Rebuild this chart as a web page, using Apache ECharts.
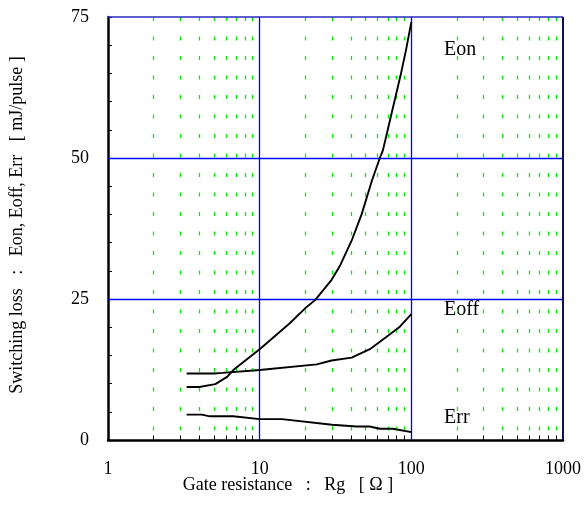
<!DOCTYPE html>
<html><head><meta charset="utf-8">
<script src="https://cdn.jsdelivr.net/npm/echarts@6/dist/echarts.min.js"></script>
<style>html,body{margin:0;padding:0;background:#fff}#c{width:586px;height:520px}</style>
</head><body><div id="c"></div>
<script>
const rgEon = [3.3, 4.0, 5.1, 6.1, 6.7, 10, 15.8, 20.4, 23.2, 29.8, 34, 40.6, 47, 55, 62, 65, 75, 85, 92, 100];
const eon   = [9.4, 9.4, 9.9, 11.2, 12.4, 16.1, 20.7, 23.6, 24.8, 28.4, 31, 35.5, 40, 46, 50, 51.4, 58.5, 64.7, 69, 74.1];
const rgEoff = [3.3, 5.0, 5.7, 10, 23.8, 29.8, 40.4, 53.3, 68.7, 84, 100];
const eoff   = [11.8, 11.8, 11.9, 12.4, 13.4, 14.1, 14.6, 16.1, 18.3, 20.1, 22.3];
const rgErr = [3.3, 4.15, 4.7, 6.7, 10, 14, 30, 43.6, 53, 62, 75.6, 100];
const err   = [4.5, 4.5, 4.2, 4.2, 3.7, 3.7, 2.7, 2.4, 2.4, 2.0, 2.0, 1.4];
const minorX = [2,3,4,5,6,7,8,9,20,30,40,50,60,70,80,90,200,300,400,500,600,700,800,900];
const xTicks = [1, 10, 100, 1000];
const yTicks = [0, 25, 50, 75];
const xName = 'Gate resistance   :   Rg   [ Ω ]';
const yName = 'Switching loss   :   Eon, Eoff, Err   [ mJ/pulse ]';
const seriesNames = ['Eon', 'Eoff', 'Err'];

const FONT = 'Liberation Serif';
const zip = (xs, ys) => xs.map((x, i) => [x, ys[i]]);
const chart = echarts.init(document.getElementById('c'), null, {renderer: 'canvas'});
const lineS = (name, data) => ({
  name, type: 'line', data, symbol: 'none', smooth: false, z: 5,
  lineStyle: {color: '#000', width: 1.9}
});
const ml = (z, color, width, type, data) => ({
  type: 'line', data: [], silent: true, z,
  markLine: {
    silent: true, symbol: ['none', 'none'], label: {show: false}, animation: false,
    lineStyle: {color, width, type}, emphasis: {disabled: true}, data
  }
});
const majorV = xTicks.slice(1, 3).map(x => [{coord: [x, yTicks[0]]}, {coord: [x, yTicks[3]]}]);
const majorH = yTicks.slice(1, 3).map(y => [{coord: [xTicks[0], y]}, {coord: [xTicks[3], y]}]);
chart.setOption({
  animation: false,
  grid: {left: 108, right: 23, top: 17, bottom: 80},
  xAxis: {
    type: 'log', logBase: 10, min: xTicks[0], max: xTicks[3],
    axisLine: {show: true, onZero: false, lineStyle: {color: '#000', width: 2.5}},
    axisTick: {show: true, inside: true, length: 4, lineStyle: {color: '#000'}},
    axisLabel: {color: '#000', fontFamily: FONT, fontSize: 18, margin: 20, formatter: v => String(v)},
    splitLine: {show: false},
    minorTick: {show: false}, minorSplitLine: {show: false}
  },
  yAxis: {
    type: 'value', min: yTicks[0], max: yTicks[3], interval: 25,
    axisLine: {show: true, onZero: false, lineStyle: {color: '#000', width: 2.5}},
    axisTick: {show: true, inside: true, length: 4, lineStyle: {color: '#000'}},
    minorTick: {show: true, splitNumber: 5, length: 4, lineStyle: {color: '#000'}},
    axisLabel: {color: '#000', fontFamily: FONT, fontSize: 18, margin: 19},
    splitLine: {show: false}
  },
  series: [
    ml(1, '#00ee00', 1.3, [4, 15.5], minorX.map(x => [{coord: [x, yTicks[3]]}, {coord: [x, yTicks[0]]}])),
    ml(2, '#000', 1, 'solid', minorX.map(x => [{coord: [x, 0]}, {coord: [x, 0.8]}])),
    ml(3, '#0000ff', 1.3, 'solid', majorV.concat(majorH)),
    ml(3, '#2a2ac0', 1.5, 'solid', [[{coord: [xTicks[0], yTicks[3]]}, {coord: [xTicks[3], yTicks[3]]}]]),
    ml(3, '#101050', 2, 'solid', [[{coord: [xTicks[3], yTicks[0]]}, {coord: [xTicks[3], yTicks[3]]}]]),
    lineS(seriesNames[0], zip(rgEon, eon)),
    lineS(seriesNames[1], zip(rgEoff, eoff)),
    lineS(seriesNames[2], zip(rgErr, err))
  ],
  graphic: [
    {type: 'text', x: 444, y: 50, style: {text: seriesNames[0], font: '20px ' + FONT, fill: '#000', verticalAlign: 'middle'}},
    {type: 'text', x: 444, y: 309.5, style: {text: seriesNames[1], font: '20px ' + FONT, fill: '#000', verticalAlign: 'middle'}},
    {type: 'text', x: 444, y: 417.5, style: {text: seriesNames[2], font: '20px ' + FONT, fill: '#000', verticalAlign: 'middle'}},
    {type: 'text', x: 288, y: 485, style: {text: xName, font: '18px ' + FONT, fill: '#000', align: 'center', verticalAlign: 'middle'}},
    {type: 'text', x: 17, y: 225, rotation: Math.PI / 2, style: {text: yName, font: '18px ' + FONT, fill: '#000', align: 'center', verticalAlign: 'middle'}}
  ]
});
</script></body></html>
